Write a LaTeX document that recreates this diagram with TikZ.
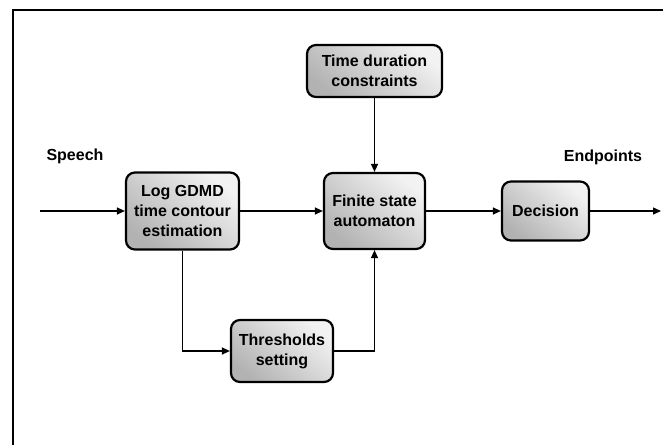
\documentclass[tikz,border=0pt]{standalone}
\usepackage{fontspec}
\setmainfont{Liberation Sans}
\usetikzlibrary{arrows.meta}
\begin{document}
\begin{tikzpicture}[x=1pt,y=-1pt,
  blockbox/.style={draw=black, line width=2.2pt, rounded corners=9pt,
    top color=white!95!black, bottom color=black!30, shading angle=-40,
    align=center, inner sep=2pt,
    font=\fontsize{16}{20}\selectfont\bfseries},
  label/.style={font=\fontsize{16}{20}\selectfont\bfseries},
  link/.style={line width=1.3pt, -{Triangle[length=8pt,width=7pt]}},
  plain/.style={line width=1.3pt}]
\useasboundingbox (0,0) rectangle (663,444);
% outer frame
\draw[line width=2.6pt] (13,460) -- (13,10) -- (680,10);

% blocks
\node[blockbox, minimum width=113pt, minimum height=77pt] (log) at (182.5,211) {Log GDMD\\time contour\\estimation};
\node[blockbox, minimum width=101pt, minimum height=76pt] (fsa) at (374.5,211) {Finite state\\automaton};
\node[blockbox, minimum width=135pt, minimum height=52pt] (td) at (374.5,71) {Time duration\\constraints};
\node[blockbox, minimum width=102pt, minimum height=62pt] (thr) at (282,351) {Thresholds\\setting};
\node[blockbox, minimum width=87pt, minimum height=59pt] (dec) at (545.5,211) {Decision};

% labels
\node[label] (speech) at (75,156) {Speech};
\node[label] (endp) at (603,157) {Endpoints};

% connectors
\coordinate (in) at (40,211);
\coordinate (out) at (661,211);
\draw[link] (in) -- (log.west);
\draw[link] (log.east) -- (fsa.west);
\draw[link] (fsa.east) -- (dec.west);
\draw[link] (dec.east) -- (out);
\draw[link] (td.south) -- (fsa.north);
\draw[link] (log.south) |- (thr.west);
\draw[link] (thr.east) -| (fsa.south);
\end{tikzpicture}
\end{document}
